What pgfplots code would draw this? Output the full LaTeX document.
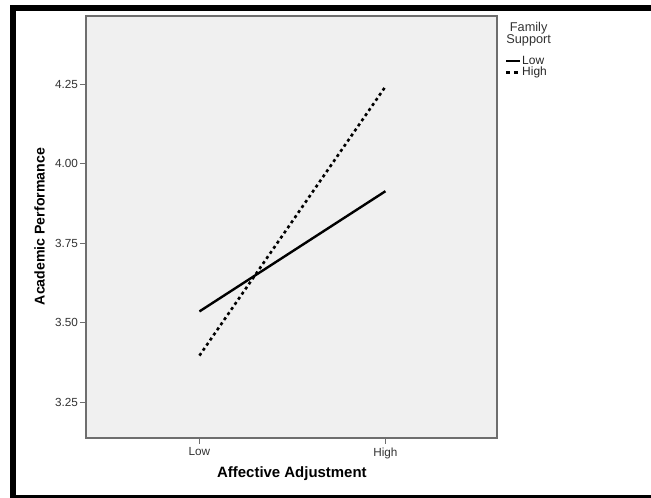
\documentclass[border=0pt]{standalone}
\usepackage{fontspec}
\setmainfont{Liberation Sans}
\usepackage{pgfplots}
\pgfplotsset{compat=1.18}
\definecolor{bgfill}{RGB}{240,240,240}
\definecolor{axgray}{RGB}{110,110,110}
\newcommand{\lgf}{\fontsize{12}{12}\selectfont}
\begin{document}
\begin{tikzpicture}
\path[use as bounding box] (0,0) rectangle (651bp,498bp);
\begin{axis}[
  at={(86bp,60bp)}, anchor=south west,
  scale only axis, width=411bp, height=422bp,
  xmin=-0.61, xmax=1.6, ymin=3.137, ymax=4.464,
  xtick={0,1}, xticklabels={Low,High},
  ytick={3.25,3.5,3.75,4,4.25},
  xtick pos=bottom, ytick pos=left,
  yticklabel style={/pgf/number format/fixed, /pgf/number format/fixed zerofill, /pgf/number format/precision=2, /pgf/number format/assume math mode=true, xshift=1.5bp},
  tick align=outside, major tick length=6bp,
  tick style={axgray, line width=0.9bp},
  axis line style={axgray, line width=1.2bp},
  axis background/.style={fill=bgfill},
  ticklabel style={font=\fontsize{11.8}{12}\selectfont, text=black!80},
  xlabel={\textbf{Affective Adjustment}},
  ylabel={\textbf{Academic Performance}},
  xlabel style={at={(axis description cs:0.501,-0.085)}, anchor=center, font=\fontsize{15}{16}\selectfont},
  ylabel style={at={(axis description cs:-0.113,0.501)}, anchor=center, font=\fontsize{14.2}{15}\selectfont},
  clip=false,
  legend style={at={(axis description cs:1.0195,0.907)}, anchor=north west, draw=none, fill=none,
    inner sep=0pt, row sep=0.3bp, nodes={inner sep=0.6bp, text=black!85}},
  legend cell align=left,
  legend image code/.code={\draw[#1] (0bp,0bp) -- (14bp,0bp);},
]
\addplot[black, line width=2.4bp] coordinates {(0,3.535) (1,3.913)};
\addlegendentry{\lgf Low}
\addplot[black, line width=2.6bp, dash pattern=on 3bp off 3.2bp, forget plot] coordinates {(0,3.396) (1,4.242)};
\addlegendimage{black, line width=2.4bp, dash pattern=on 4bp off 3.5bp}
\addlegendentry{\lgf High}
\node[align=center, font=\fontsize{12.8}{12.5}\selectfont, text=black!80] at (axis description cs:1.077,0.957) {Family\\Support};
\end{axis}
\draw[line width=6bp] (651bp,490.3bp) -- (13.3bp,490.3bp) -- (13.3bp,0bp);
\draw[line width=2.6bp] (10.3bp,1.3bp) -- (651bp,1.3bp);
\end{tikzpicture}
\end{document}
